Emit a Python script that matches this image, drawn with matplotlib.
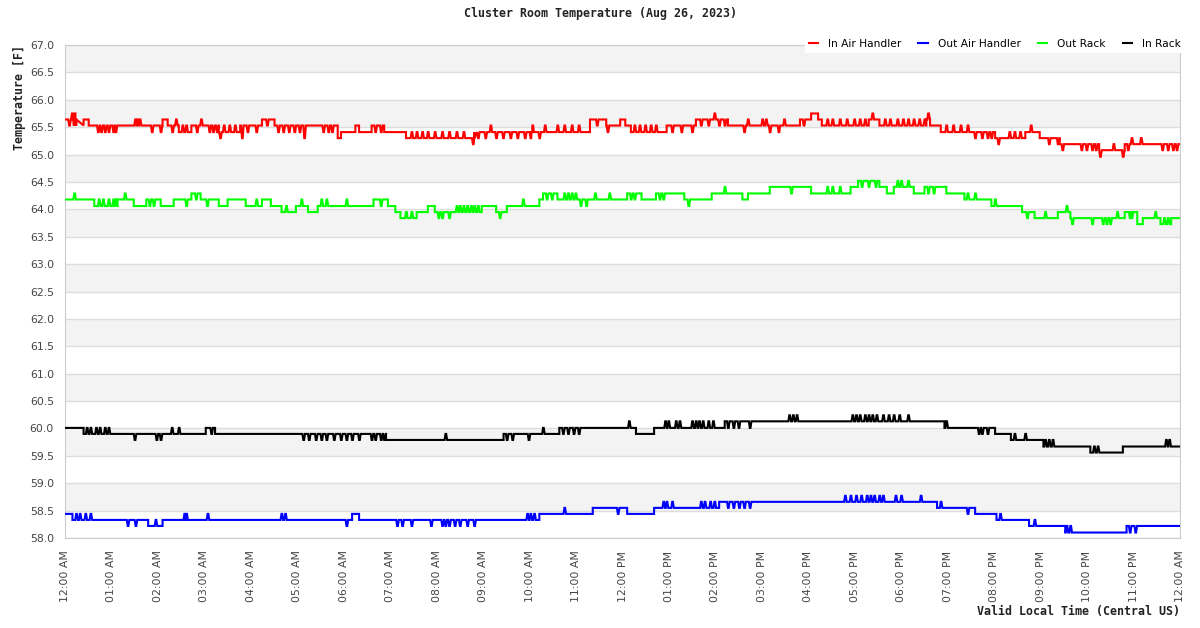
import numpy as np
import matplotlib
matplotlib.use('Agg')
import matplotlib.pyplot as plt

# hours after midnight, temperature in F (step changes)
red_base = [(0.00, 65.64), (0.24, 65.53), (0.40, 65.64), (0.51, 65.53), (2.10, 65.64), (2.21, 65.53),
            (2.45, 65.41), (2.72, 65.53), (3.31, 65.41), (3.77, 65.53), (4.24, 65.64), (4.51, 65.53),
            (5.87, 65.30), (5.94, 65.41), (6.25, 65.53), (6.33, 65.41), (6.60, 65.53), (6.87, 65.41),
            (7.34, 65.30), (8.81, 65.41), (11.30, 65.64), (11.65, 65.53), (11.95, 65.64), (12.06, 65.53),
            (12.18, 65.41), (12.95, 65.53), (13.58, 65.64), (14.27, 65.53), (15.82, 65.64), (16.06, 65.75),
            (16.21, 65.64), (16.29, 65.53), (17.30, 65.64), (17.53, 65.53), (18.54, 65.64), (18.62, 65.53),
            (18.85, 65.41), (20.02, 65.30), (20.67, 65.41), (20.98, 65.30), (21.41, 65.19), (22.26, 65.08),
            (22.81, 65.19)]
red_spikes = [(0.09, 65.53), (0.15, 65.75), (0.19, 65.53), (0.21, 65.75),
              (0.71, 65.41), (0.78, 65.41), (0.86, 65.41), (0.94, 65.41), (1.04, 65.41), (1.09, 65.41),
              (1.51, 65.64), (1.56, 65.64), (1.61, 65.64), (1.87, 65.41), (2.06, 65.41),
              (2.31, 65.41), (2.39, 65.64), (2.53, 65.53), (2.61, 65.53),
              (2.84, 65.41), (2.93, 65.64), (3.11, 65.41), (3.19, 65.41), (3.27, 65.41),
              (3.34, 65.30), (3.42, 65.53), (3.54, 65.53), (3.66, 65.53),
              (3.81, 65.30), (3.93, 65.41), (4.12, 65.41), (4.35, 65.53),
              (4.59, 65.41), (4.70, 65.41), (4.82, 65.41), (4.94, 65.41), (5.05, 65.41), (5.15, 65.30),
              (5.56, 65.41), (5.67, 65.41), (5.75, 65.41), (6.68, 65.41), (6.80, 65.41),
              (7.46, 65.41), (7.57, 65.41), (7.69, 65.41), (7.81, 65.41), (7.96, 65.41), (8.12, 65.41),
              (8.27, 65.41), (8.43, 65.41), (8.58, 65.41), (8.78, 65.19),
              (8.89, 65.30), (9.05, 65.30), (9.16, 65.53), (9.28, 65.30), (9.43, 65.30), (9.59, 65.30),
              (9.74, 65.30), (9.90, 65.30), (10.02, 65.30), (10.06, 65.53), (10.21, 65.30), (10.33, 65.53),
              (10.60, 65.53), (10.75, 65.53), (10.91, 65.53), (11.06, 65.53), (11.45, 65.53), (11.68, 65.41),
              (12.26, 65.53), (12.37, 65.53), (12.49, 65.53), (12.61, 65.53), (12.72, 65.53),
              (13.07, 65.41), (13.27, 65.41), (13.50, 65.41),
              (13.69, 65.53), (13.85, 65.53), (13.98, 65.75), (14.08, 65.53), (14.20, 65.53),
              (14.62, 65.41), (14.70, 65.64), (15.01, 65.64), (15.09, 65.64), (15.17, 65.41), (15.36, 65.41),
              (15.48, 65.64), (15.90, 65.53),
              (16.41, 65.64), (16.52, 65.64), (16.68, 65.64), (16.83, 65.64), (16.99, 65.64), (17.11, 65.64),
              (17.22, 65.64), (17.38, 65.75),
              (17.65, 65.64), (17.76, 65.64), (17.92, 65.64), (18.04, 65.64), (18.15, 65.64), (18.27, 65.64),
              (18.39, 65.64), (18.50, 65.64), (18.58, 65.75),
              (18.97, 65.53), (19.12, 65.53), (19.28, 65.53), (19.43, 65.53), (19.59, 65.30), (19.74, 65.30),
              (19.86, 65.30), (19.94, 65.30), (20.09, 65.19), (20.33, 65.41), (20.44, 65.41), (20.56, 65.41),
              (20.79, 65.53), (21.18, 65.19), (21.37, 65.19), (21.47, 65.08),
              (21.88, 65.08), (21.99, 65.08), (22.11, 65.08), (22.19, 65.08),
              (22.28, 64.96), (22.57, 65.19), (22.77, 64.96), (22.88, 65.08), (22.96, 65.30), (23.16, 65.30),
              (23.62, 65.08), (23.74, 65.08), (23.85, 65.08), (23.93, 65.08)]

blue_base = [(0.00, 58.44), (0.16, 58.33), (1.79, 58.22), (2.10, 58.33), (6.18, 58.44), (6.33, 58.33),
             (10.21, 58.44), (11.36, 58.55), (12.10, 58.44), (12.68, 58.55), (14.08, 58.66), (18.77, 58.55),
             (19.59, 58.44), (20.05, 58.33), (20.75, 58.22), (21.53, 58.10), (22.85, 58.22)]
blue_spikes = [(0.24, 58.44), (0.32, 58.44), (0.44, 58.44), (0.55, 58.44), (1.35, 58.22), (1.52, 58.22),
               (1.95, 58.33), (2.57, 58.44), (2.61, 58.44), (3.07, 58.44), (4.66, 58.44), (4.74, 58.44),
               (6.06, 58.22), (7.15, 58.22), (7.26, 58.22), (7.46, 58.22), (7.88, 58.22), (8.12, 58.22),
               (8.19, 58.22), (8.27, 58.22), (8.39, 58.22), (8.50, 58.22), (8.66, 58.22), (8.81, 58.22),
               (9.95, 58.44), (10.02, 58.44), (10.10, 58.44), (10.75, 58.55), (11.90, 58.44),
               (12.88, 58.66), (12.95, 58.66), (13.07, 58.66), (13.69, 58.66), (13.77, 58.66), (13.89, 58.66),
               (13.98, 58.66), (14.27, 58.55), (14.39, 58.55), (14.51, 58.55), (14.62, 58.55), (14.74, 58.55),
               (16.79, 58.77), (16.91, 58.77), (17.03, 58.77), (17.14, 58.77), (17.26, 58.77), (17.34, 58.77),
               (17.42, 58.77), (17.53, 58.77), (17.61, 58.77), (17.88, 58.77), (18.00, 58.77), (18.42, 58.77),
               (18.85, 58.66), (19.43, 58.44), (20.13, 58.44), (20.87, 58.33), (21.56, 58.22), (21.64, 58.22),
               (22.92, 58.10), (23.04, 58.10)]

green_base = [(0.00, 64.18), (0.63, 64.06), (1.13, 64.18), (1.48, 64.06), (1.75, 64.18), (2.06, 64.06),
              (2.34, 64.18), (2.72, 64.29), (2.92, 64.18), (3.31, 64.06), (3.50, 64.18), (3.89, 64.06),
              (4.24, 64.18), (4.43, 64.06), (4.66, 63.95), (4.97, 64.06), (5.23, 63.95), (5.44, 64.06),
              (6.64, 64.18), (6.95, 64.06), (7.11, 63.95), (7.22, 63.84), (7.57, 63.95), (7.81, 64.06),
              (7.96, 63.95), (8.97, 64.06), (9.28, 63.95), (9.51, 64.06), (10.21, 64.18), (10.29, 64.29),
              (10.60, 64.18), (12.10, 64.29), (12.41, 64.18), (12.72, 64.29), (13.33, 64.18), (13.92, 64.29),
              (14.58, 64.18), (14.70, 64.29), (15.17, 64.41), (16.06, 64.29), (16.91, 64.41), (17.07, 64.52),
              (17.53, 64.41), (17.69, 64.29), (17.84, 64.41), (18.27, 64.29), (18.50, 64.41), (18.97, 64.29),
              (19.36, 64.18), (19.94, 64.06), (20.60, 63.95), (20.87, 63.84), (21.37, 63.95), (21.64, 63.84),
              (22.81, 63.95), (23.08, 63.73), (23.20, 63.84), (23.58, 63.73), (23.81, 63.84)]
green_spikes = [(0.20, 64.29), (0.73, 64.18), (0.82, 64.18), (0.94, 64.18), (1.04, 64.18), (1.09, 64.18),
                (1.29, 64.29), (1.82, 64.06), (1.91, 64.06), (2.61, 64.06), (2.82, 64.18), (3.06, 64.06),
                (4.12, 64.18), (4.76, 64.06), (5.09, 64.18), (5.52, 64.18), (5.63, 64.18), (6.06, 64.18),
                (6.80, 64.06), (7.34, 63.95), (7.46, 63.95), (8.04, 63.84), (8.12, 63.84), (8.27, 63.84),
                (8.43, 64.06), (8.50, 64.06), (8.58, 64.06), (8.66, 64.06), (8.74, 64.06), (8.81, 64.06),
                (8.89, 64.06), (9.36, 63.84), (9.86, 64.18), (10.37, 64.18), (10.48, 64.18),
                (10.75, 64.29), (10.83, 64.29), (10.91, 64.29), (10.99, 64.29), (11.10, 64.06), (11.22, 64.06),
                (11.41, 64.29), (11.72, 64.29), (12.18, 64.18), (12.26, 64.18), (12.80, 64.18), (12.88, 64.18),
                (13.42, 64.06), (14.20, 64.41), (15.63, 64.29), (16.41, 64.41), (16.52, 64.41), (16.68, 64.41),
                (17.15, 64.41), (17.30, 64.41), (17.45, 64.41), (17.92, 64.52), (18.00, 64.52), (18.15, 64.52),
                (18.58, 64.29), (18.70, 64.29), (19.43, 64.29), (19.59, 64.29), (20.02, 64.18),
                (20.71, 63.84), (21.10, 63.95), (21.56, 64.06), (21.68, 63.73), (22.11, 63.73), (22.34, 63.73),
                (22.42, 63.73), (22.50, 63.73), (22.65, 63.95), (22.92, 63.84), (22.96, 63.84),
                (23.47, 63.95), (23.66, 63.84), (23.74, 63.84)]

black_base = [(0.00, 60.01), (0.40, 59.90), (3.03, 60.01), (3.23, 59.90), (6.91, 59.79), (9.44, 59.90),
              (10.64, 60.01), (12.29, 59.90), (12.68, 60.01), (14.20, 60.13), (18.93, 60.01), (20.02, 59.90),
              (20.36, 59.79), (21.06, 59.67), (22.07, 59.56), (22.77, 59.67)]
black_spikes = [(0.47, 60.01), (0.55, 60.01), (0.67, 60.01), (0.75, 60.01), (0.86, 60.01), (0.94, 60.01),
                (1.50, 59.79), (1.97, 59.79), (2.06, 59.79), (2.30, 60.01), (2.45, 60.01), (3.15, 59.90),
                (5.13, 59.79), (5.25, 59.79), (5.40, 59.79), (5.52, 59.79), (5.63, 59.79), (5.79, 59.79),
                (5.94, 59.79), (6.06, 59.79), (6.18, 59.79), (6.33, 59.79), (6.60, 59.79), (6.68, 59.79),
                (6.80, 59.79), (6.87, 59.79), (8.19, 59.90), (9.51, 59.79), (9.63, 59.79), (9.98, 59.79),
                (10.29, 60.01), (10.72, 59.90), (10.83, 59.90), (10.95, 59.90), (11.06, 59.90), (12.14, 60.13),
                (12.92, 60.13), (12.99, 60.13), (13.15, 60.13), (13.23, 60.13), (13.50, 60.13), (13.58, 60.13),
                (13.65, 60.13), (13.73, 60.13), (13.85, 60.13), (13.95, 60.13), (14.27, 60.01), (14.39, 60.01),
                (14.50, 60.01), (14.74, 60.01), (15.59, 60.24), (15.67, 60.24), (15.75, 60.24),
                (16.95, 60.24), (17.03, 60.24), (17.11, 60.24), (17.22, 60.24), (17.30, 60.24), (17.38, 60.24),
                (17.47, 60.24), (17.61, 60.24), (17.73, 60.24), (17.84, 60.24), (17.96, 60.24), (18.15, 60.24),
                (18.97, 60.13), (19.67, 59.90), (19.74, 59.90), (19.86, 59.90), (20.44, 59.90), (20.67, 59.90),
                (21.10, 59.79), (21.18, 59.79), (21.26, 59.79), (22.15, 59.67), (22.23, 59.67),
                (23.70, 59.79), (23.77, 59.79)]

hour_labels = ['12:00 AM', '01:00 AM', '02:00 AM', '03:00 AM', '04:00 AM', '05:00 AM', '06:00 AM',
               '07:00 AM', '08:00 AM', '09:00 AM', '10:00 AM', '11:00 AM', '12:00 PM', '01:00 PM',
               '02:00 PM', '03:00 PM', '04:00 PM', '05:00 PM', '06:00 PM', '07:00 PM', '08:00 PM',
               '09:00 PM', '10:00 PM', '11:00 PM', '12:00 AM']


def trace(base, spikes):
    # base levels as vertical steps, short excursions as narrow peaks
    bt = np.array([b[0] for b in base])
    bv = [b[1] for b in base]
    pts = []
    for i, (t, v) in enumerate(base):
        if i:
            pts.append((t, bv[i - 1]))
        pts.append((t, v))
    for t, v in spikes:
        b = bv[np.searchsorted(bt, t, side='right') - 1]
        pts += [(t - 0.02, b), (t, v), (t + 0.015, v), (t + 0.035, b)]
    pts.sort(key=lambda p: p[0])
    pts.append((24.0, bv[-1]))
    return [p[0] for p in pts], [p[1] for p in pts]


fig = plt.figure(figsize=(12, 6.28), dpi=100)
ax = fig.add_axes([65/1200, 1 - 538/628, 1115/1200, 493/628])

for lo in np.arange(58.5, 67, 1.0):
    ax.axhspan(lo, lo + 0.5, color='#f3f3f3', lw=0, zorder=0)
ax.grid(axis='y', color='#dddddd', lw=1)
ax.set_axisbelow(True)

series = [('In Air Handler', red_base, red_spikes, '#ff0000'),
          ('Out Air Handler', blue_base, blue_spikes, '#0000ff'),
          ('Out Rack', green_base, green_spikes, '#00ff00'),
          ('In Rack', black_base, black_spikes, '#000000')]
for name, base, spk, col in series:
    x, y = trace(base, spk)
    ax.plot(x, y, color=col, lw=1.5, label=name, zorder=3, solid_joinstyle='miter')

ax.set_xlim(0, 24)
ax.set_ylim(58, 67)
ax.set_yticks(np.arange(58, 67.01, 0.5))
ax.set_yticklabels(['%.1f' % v for v in np.arange(58, 67.01, 0.5)])
ax.set_xticks(range(25))
ax.set_xticklabels(hour_labels, rotation=90)
ax.tick_params(axis='both', length=0, labelsize=7.8, labelcolor='#444444')
ax.tick_params(axis='y', pad=8)
ax.tick_params(axis='x', pad=9)
for s in ax.spines.values():
    s.set_color('#cccccc')

mono = 'DejaVu Sans Mono'
fig.text(0.5, 1 - 13/628, 'Cluster Room Temperature (Aug 26, 2023)', ha='center', va='center',
         family=mono, weight='bold', fontsize=8.4, color='#222222')
fig.text(20/1200, 1 - 45/628, 'Temperature [F]', rotation=90, ha='center', va='top',
         family=mono, weight='bold', fontsize=8.4, color='#222222')
fig.text(1180/1200, 1 - 611/628, 'Valid Local Time (Central US)', ha='right', va='center',
         family=mono, weight='bold', fontsize=8.4, color='#222222')

leg = ax.legend(loc='lower right', bbox_to_anchor=(1.004, 0.984), ncol=4, fontsize=7.7,
                frameon=True, fancybox=False, edgecolor='none', facecolor='white', framealpha=1,
                handlelength=0.9, handletextpad=0.9, columnspacing=1.6, borderpad=0.35, borderaxespad=0)
leg.set_zorder(5)

fig.savefig('out.png', dpi=100)
